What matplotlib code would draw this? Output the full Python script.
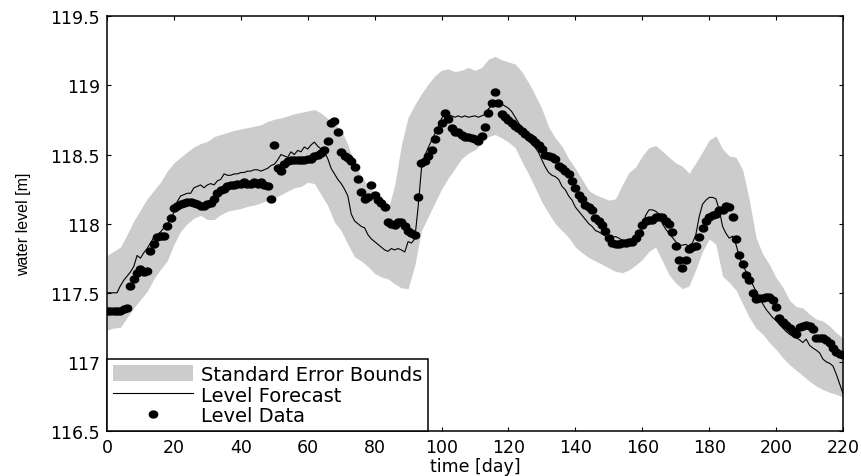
import matplotlib
matplotlib.use("Agg")
import matplotlib.pyplot as plt
import numpy as np
from matplotlib.path import Path

# measured level, one value per day (day 0 .. 220)
level_data = [
    117.37, 117.37, 117.365, 117.365, 117.37, 117.38, 117.39, 117.55, 117.60, 117.64,
    117.67, 117.65, 117.66, 117.80, 117.85, 117.90, 117.91, 117.91, 117.98, 118.04,
    118.11, 118.13, 118.14, 118.15, 118.16, 118.16, 118.15, 118.14, 118.13, 118.13,
    118.14, 118.15, 118.18, 118.22, 118.24, 118.25, 118.27, 118.28, 118.28, 118.29,
    118.29, 118.30, 118.29, 118.29, 118.30, 118.29, 118.30, 118.28, 118.27, 118.18,
    118.57, 118.40, 118.38, 118.43, 118.45, 118.46, 118.46, 118.46, 118.46, 118.46,
    118.47, 118.47, 118.49, 118.50, 118.51, 118.53, 118.60, 118.73, 118.74, 118.66,
    118.52, 118.49, 118.475, 118.45, 118.41, 118.32, 118.23, 118.18, 118.19, 118.28,
    118.21, 118.17, 118.15, 118.12, 118.01, 118.00, 117.99, 118.01, 118.01, 117.98,
    117.95, 117.93, 117.92, 118.19, 118.44, 118.45, 118.49, 118.53, 118.61, 118.675,
    118.73, 118.80, 118.76, 118.69, 118.665, 118.66, 118.64, 118.63, 118.63, 118.62,
    118.61, 118.595, 118.635, 118.70, 118.80, 118.87, 118.955, 118.875, 118.79, 118.77,
    118.75, 118.73, 118.71, 118.69, 118.67, 118.65, 118.63, 118.61, 118.59, 118.57,
    118.54, 118.50, 118.49, 118.48, 118.47, 118.42, 118.40, 118.38, 118.36, 118.31,
    118.255, 118.205, 118.18, 118.135, 118.12, 118.10, 118.04, 118.02, 117.99, 117.945,
    117.895, 117.86, 117.85, 117.85, 117.86, 117.86, 117.87, 117.87, 117.895, 117.93,
    117.99, 118.02, 118.03, 118.03, 118.05, 118.05, 118.05, 118.02, 117.996, 117.94,
    117.835, 117.74, 117.68, 117.74, 117.82, 117.83, 117.84, 117.90, 117.97, 118.02,
    118.05, 118.06, 118.07, 118.10, 118.10, 118.13, 118.12, 118.05, 117.89, 117.77,
    117.71, 117.63, 117.59, 117.50, 117.455, 117.46, 117.46, 117.47, 117.47, 117.45,
    117.40, 117.32, 117.29, 117.27, 117.245, 117.22, 117.20, 117.25, 117.26, 117.265,
    117.26, 117.24, 117.17, 117.17, 117.17, 117.155, 117.137, 117.10, 117.07, 117.055,
    117.05,
]

# forecast, one value per day (day 0 .. 220)
level_forecast = [
    117.50, 117.50, 117.50, 117.50, 117.55, 117.59, 117.62, 117.65, 117.69, 117.77,
    117.75, 117.79, 117.82, 117.86, 117.90, 117.92, 117.94, 117.97, 117.99, 118.04,
    118.08, 118.16, 118.20, 118.21, 118.22, 118.22, 118.26, 118.27, 118.28, 118.26,
    118.28, 118.29, 118.28, 118.31, 118.32, 118.36, 118.35, 118.35, 118.36, 118.36,
    118.37, 118.37, 118.38, 118.38, 118.39, 118.39, 118.38, 118.39, 118.40, 118.42,
    118.43, 118.46, 118.50, 118.49, 118.48, 118.52, 118.50, 118.53, 118.52, 118.555,
    118.54, 118.57, 118.59, 118.56, 118.54, 118.52, 118.47, 118.40, 118.36, 118.32,
    118.29, 118.25, 118.20, 118.07, 118.02, 118.00, 117.98, 117.97, 117.92, 117.89,
    117.87, 117.85, 117.83, 117.81, 117.80, 117.82, 117.81, 117.82, 117.81, 117.795,
    117.87, 117.86, 117.89, 118.12, 118.40, 118.49, 118.55, 118.60, 118.65, 118.70,
    118.76, 118.80, 118.79, 118.78, 118.77, 118.78, 118.77, 118.78, 118.77, 118.775,
    118.78, 118.77, 118.78, 118.79, 118.83, 118.855, 118.86, 118.865, 118.865, 118.85,
    118.835, 118.81, 118.77, 118.73, 118.69, 118.64, 118.60, 118.575, 118.55, 118.515,
    118.46, 118.41, 118.37, 118.35, 118.34, 118.32, 118.27, 118.245, 118.20, 118.17,
    118.12, 118.09, 118.06, 118.03, 118.00, 117.98, 117.95, 117.94, 117.925, 117.91,
    117.895, 117.90, 117.907, 117.895, 117.88, 117.88, 117.885, 117.89, 117.91, 117.93,
    117.97, 118.06, 118.10, 118.10, 118.09, 118.07, 118.00, 117.96, 117.93, 117.90,
    117.87, 117.84, 117.845, 117.85, 117.835, 117.86, 117.92, 118.05, 118.14, 118.17,
    118.19, 118.19, 118.18, 118.10, 117.98, 117.93, 117.895, 117.91, 117.85, 117.76,
    117.70, 117.655, 117.61, 117.56, 117.51, 117.46, 117.42, 117.38, 117.35, 117.32,
    117.30, 117.27, 117.245, 117.22, 117.20, 117.185, 117.175, 117.16, 117.14, 117.165,
    117.12, 117.10, 117.085, 117.065, 117.02, 117.00, 116.99, 116.97, 116.91, 116.84,
    116.77,
]

# standard error bounds, every second day (day 0, 2, ..., 220)
bound_upper = [
    117.77, 117.80, 117.83, 117.92, 118.02, 118.10, 118.18, 118.24, 118.30, 118.38,
    118.44, 118.48, 118.52, 118.555, 118.58, 118.595, 118.63, 118.645, 118.66, 118.675,
    118.685, 118.695, 118.705, 118.715, 118.74, 118.755, 118.765, 118.78, 118.795, 118.805,
    118.815, 118.825, 118.80, 118.76, 118.72, 118.68, 118.57, 118.44, 118.34, 118.28,
    118.22, 118.16, 118.10, 118.28, 118.57, 118.77, 118.86, 118.94, 119.01, 119.07,
    119.11, 119.12, 119.10, 119.11, 119.13, 119.11, 119.13, 119.19, 119.21, 119.185,
    119.17, 119.155, 119.10, 119.02, 118.93, 118.83, 118.70, 118.62, 118.56, 118.47,
    118.40, 118.32, 118.24, 118.21, 118.19, 118.17, 118.18, 118.28, 118.37, 118.41,
    118.49, 118.55, 118.565, 118.525, 118.48, 118.44, 118.415, 118.365, 118.44, 118.52,
    118.605, 118.635, 118.54, 118.49, 118.48, 118.39, 118.17, 117.90, 117.78, 117.705,
    117.61, 117.54, 117.445, 117.40, 117.39, 117.345, 117.31, 117.295, 117.26, 117.21,
    117.17,
]
bound_lower = [
    117.23, 117.245, 117.25, 117.32, 117.39, 117.45, 117.51, 117.60, 117.67, 117.73,
    117.85, 117.945, 118.00, 118.04, 118.06, 118.03, 118.03, 118.065, 118.09, 118.10,
    118.11, 118.125, 118.135, 118.15, 118.17, 118.185, 118.21, 118.235, 118.26, 118.27,
    118.30, 118.29, 118.21, 118.13, 118.01, 117.95, 117.85, 117.76, 117.73, 117.69,
    117.64, 117.615, 117.60, 117.565, 117.535, 117.53, 117.70, 117.95, 118.05, 118.15,
    118.25, 118.33, 118.40, 118.47, 118.51, 118.535, 118.58, 118.63, 118.645, 118.62,
    118.59, 118.55, 118.45, 118.36, 118.26, 118.155, 118.075, 118.00, 117.95, 117.90,
    117.83, 117.79, 117.755, 117.73, 117.705, 117.68, 117.655, 117.645, 117.665, 117.70,
    117.74, 117.80, 117.83, 117.73, 117.63, 117.57, 117.53, 117.55, 117.67, 117.80,
    117.89, 117.85, 117.62, 117.575, 117.52, 117.42, 117.32, 117.245, 117.20, 117.14,
    117.09, 117.03, 116.98, 116.94, 116.90, 116.86, 116.825, 116.80, 116.78, 116.765,
    116.745,
]

days = np.arange(len(level_data))
bound_days = np.arange(0, 221, 2)

# slightly wide dot, like the original marker
t = np.linspace(0, 2 * np.pi, 40)
dot = Path(np.column_stack([1.2 * np.cos(t), np.sin(t)]))

plt.rcParams["font.family"] = ["DejaVu Sans"]

f = plt.figure(figsize=(8.62, 4.77), dpi=100)
ax = f.add_axes([0.1241, 0.0943, 0.8539, 0.8694])

p1 = ax.fill_between(bound_days, bound_lower, bound_upper, color="#cccccc", lw=0)
p2, = ax.plot(days, level_forecast, c="black", lw=0.8)
p3, = ax.plot(days, level_data, ls="none", marker=dot, ms=6, c="black")

ax.set_xlim(0, 220)
ax.set_ylim(116.5, 119.5)
ax.set_xticks(np.arange(0, 221, 20))
ax.set_yticks([116.5, 117, 117.5, 118, 118.5, 119, 119.5])
ax.set_yticklabels(["116.5", "117", "117.5", "118", "118.5", "119", "119.5"])
ax.tick_params(direction="in", length=3, width=0.8, top=True, right=True,
               labelsize=12.5, pad=5)
for s in ax.spines.values():
    s.set_linewidth(1.1)

ax.set_xlabel("time [day]", fontsize=12.5, labelpad=0.5)
ax.set_ylabel("water level [m]", fontsize=11.5, family="Liberation Sans", labelpad=14)

leg = ax.legend((p1, p2, p3), ("Standard Error Bounds", "Level Forecast", "Level Data"),
                loc="lower left", borderaxespad=0, fancybox=False, fontsize=14,
                handlelength=4.1, handleheight=0.9, handletextpad=0.45,
                borderpad=0.3, labelspacing=0.08, framealpha=1)
leg.get_frame().set_edgecolor("black")
leg.get_frame().set_linewidth(1.1)

f.savefig("out.png", dpi=100)
